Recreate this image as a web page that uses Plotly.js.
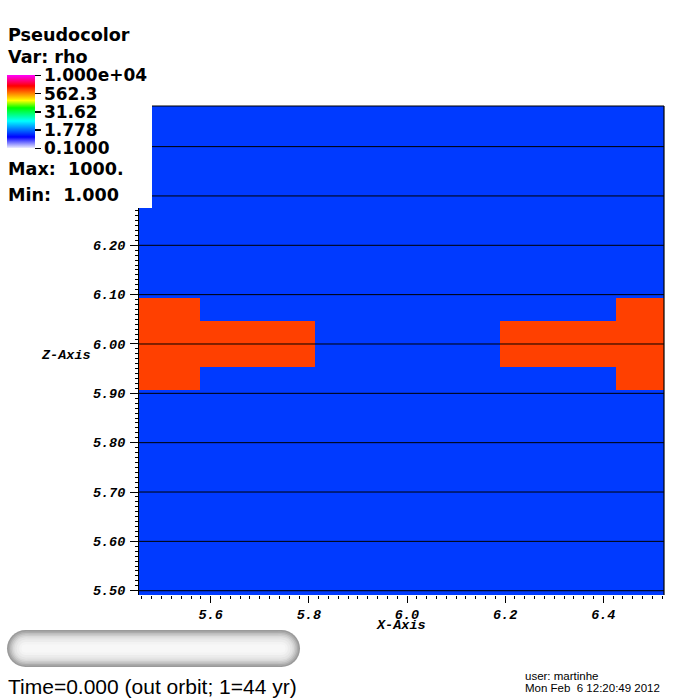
<!DOCTYPE html>
<html>
<head>
<meta charset="utf-8">
<script src="https://cdn.plot.ly/plotly-3.0.1.min.js"></script>
<style>html,body{margin:0;padding:0;background:#fff;}#plot{width:700px;height:700px;}</style>
</head>
<body>
<div id="plot"></div>
<script>
// ---- data ----
const xEdges = [5.4539, 5.578, 5.812, 6.189, 6.426, 6.5237];   // cell boundaries (X-Axis)
const zEdges = [5.4913, 5.907, 5.953, 6.047, 6.094, 6.4823];   // cell boundaries (Z-Axis)
const rhoRow0 = [1, 1, 1, 1, 1];
const rhoRow1 = [1000, 1, 1, 1, 1000];
const rhoRow2 = [1000, 1000, 1, 1000, 1000];
const rhoRow3 = [1000, 1, 1, 1, 1000];
const rhoRow4 = [1, 1, 1, 1, 1];
const yTickVals = [5.5, 5.6, 5.7, 5.8, 5.9, 6.0, 6.1, 6.2];          // labelled (visible) ticks
const yGridVals = [5.5, 5.6, 5.7, 5.8, 5.9, 6.0, 6.1, 6.2, 6.3, 6.4]; // grid lines
const cbTickVals = [0.1, 1.778, 31.62, 562.3, 10000];
const cbTickText = ['0.1000', '1.778', '31.62', '562.3', '1.000e+04'];
const rhoMin = 0.1, rhoMax = 10000;

// ---- layout helpers ----
const W = 700, H = 700, L = 139, R = 36, T = 106, B = 105;
const PW = W - L - R, PH = H - T - B;
const px = x => (x - L) / PW;
const py = y => (H - B - y) / PH;

const rho = [rhoRow0, rhoRow1, rhoRow2, rhoRow3, rhoRow4];
const zLog = rho.map(r => r.map(v => Math.log10(v)));

const colorscale = [
  [0, '#ececff'], [0.15, '#0000ff'], [0.37, '#00ffff'], [0.55, '#00ff00'],
  [0.65, '#ffff00'], [0.85, '#ff0000'], [1, '#ff00ff']
];

const trace = {
  type: 'heatmap', x: xEdges, y: zEdges, z: zLog,
  zmin: Math.log10(rhoMin), zmax: Math.log10(rhoMax),
  colorscale: colorscale, zsmooth: false, hoverinfo: 'skip',
  colorbar: {
    xref: 'container', yref: 'container',
    x: 7 / W, xanchor: 'left', y: 1 - 108 / H, yanchor: 'top',
    xpad: 0, ypad: 0, thickness: 28, thicknessmode: 'pixels',
    len: 72.5, lenmode: 'pixels', outlinewidth: 0,
    tickmode: 'array', tickvals: cbTickVals.map(v => Math.log10(v)), ticktext: cbTickText,
    ticks: 'outside', ticklen: 6, tickwidth: 1.5, tickcolor: '#000',
    tickfont: {family: 'DejaVu Sans', size: 17, weight: 'bold', color: '#000'}
  }
};

const monoFont = {family: 'Liberation Mono', size: 13.5, weight: 'bold', style: 'italic', color: '#000'};
const labelFont = {family: 'DejaVu Sans', size: 17.6, weight: 'bold', color: '#000'};

const shapes = [];
yGridVals.forEach(v => shapes.push({type: 'line', xref: 'paper', yref: 'y', x0: 0, x1: 1, y0: v, y1: v, line: {color: '#000', width: 1}}));
shapes.push({type: 'line', xref: 'paper', yref: 'paper', x0: 0, x1: 1, y0: 1, y1: 1, line: {color: '#000', width: 1.2}});
shapes.push({type: 'line', xref: 'paper', yref: 'paper', x0: 1, x1: 1, y0: 0, y1: 1, line: {color: '#000', width: 1.2}});
// legend background box
shapes.push({type: 'rect', xref: 'paper', yref: 'paper', x0: px(-5), x1: px(152), y0: py(208), y1: py(-5), fillcolor: '#fff', line: {width: 0}});
// time slider pill
const pl = 7, pr = 300, pt = 630, pb = 667;
const r0 = (pb - pt) / 2, cy = (pt + pb) / 2, cx1 = pl + r0, cx2 = pr - r0;
const pillLayers = [[0, '#9a9a9a'], [1.5, '#ababab'], [3, '#bdbdbd'], [4.5, '#cdcdcd'], [6, '#dadada'], [7.5, '#e4e4e4'], [9.5, '#ececec'], [12, '#f3f3f3'], [14.5, '#f7f7f7']];
pillLayers.forEach(([d, c]) => {
  const rr = r0 - d;
  shapes.push({type: 'circle', xref: 'paper', yref: 'paper', x0: px(cx1 - rr), x1: px(cx1 + rr), y0: py(cy + rr), y1: py(cy - rr), fillcolor: c, line: {width: 0}});
  shapes.push({type: 'circle', xref: 'paper', yref: 'paper', x0: px(cx2 - rr), x1: px(cx2 + rr), y0: py(cy + rr), y1: py(cy - rr), fillcolor: c, line: {width: 0}});
  shapes.push({type: 'rect', xref: 'paper', yref: 'paper', x0: px(cx1), x1: px(cx2), y0: py(cy + rr), y1: py(cy - rr), fillcolor: c, line: {width: 0}});
});

function ann(text, x, y, font, xanchor) {
  return {text: text, xref: 'paper', yref: 'paper', x: px(x), y: py(y), xanchor: xanchor || 'left', yanchor: 'middle', showarrow: false, font: font};
}
const annotations = [
  ann('Pseudocolor', 6, 35, labelFont),
  ann('Var: rho', 6, 57, labelFont),
  ann('Max:\u00a0 1000.', 6, 169, labelFont),
  ann('Min:\u00a0 1.000', 6, 195, labelFont),
  ann('Z-Axis', 93, 355, monoFont, 'right'),
  ann('X-Axis', 401, 625, monoFont, 'center'),
  ann('Time=0.000 (out orbit; 1=44 yr)', 6, 686, {family: 'Liberation Sans', size: 21, color: '#000'}),
  ann('user: martinhe', 523, 676, {family: 'Liberation Sans', size: 11.5, color: '#000'}),
  ann('Mon Feb \u00a06 12:20:49 2012', 523, 688, {family: 'Liberation Sans', size: 11.5, color: '#000'})
];

const layout = {
  width: W, height: H, margin: {l: L, r: R, t: T, b: B, pad: 0, autoexpand: false},
  paper_bgcolor: '#fff', plot_bgcolor: '#fff', showlegend: false,
  xaxis: {
    range: [xEdges[0], xEdges[xEdges.length - 1]], tick0: 5.6, dtick: 0.2, tickformat: '.1f',
    ticks: 'outside', ticklen: 7, tickwidth: 1, tickcolor: '#000', showgrid: false, zeroline: false,
    showline: false, tickfont: monoFont, ticklabelstandoff: 0, automargin: false,
    minor: {dtick: 0.02, ticks: 'outside', ticklen: 3, tickwidth: 1, tickcolor: '#000', showgrid: false}
  },
  yaxis: {
    range: [zEdges[0], zEdges[zEdges.length - 1]], tickmode: 'array', tickvals: yTickVals,
    ticktext: yTickVals.map(v => v.toFixed(2)),
    ticks: 'outside', ticklen: 8, tickwidth: 1, tickcolor: '#000', showgrid: false, zeroline: false,
    showline: true, linecolor: '#000', linewidth: 1, tickfont: monoFont, ticklabelstandoff: 2, automargin: false,
    minor: {tickmode: 'linear', tick0: 5.5, dtick: 0.01, ticks: 'outside', ticklen: 3, tickwidth: 1, tickcolor: '#000', showgrid: false}
  },
  shapes: shapes,
  annotations: annotations
};

Plotly.newPlot('plot', [trace], layout, {staticPlot: true, displayModeBar: false});
</script>
</body>
</html>
